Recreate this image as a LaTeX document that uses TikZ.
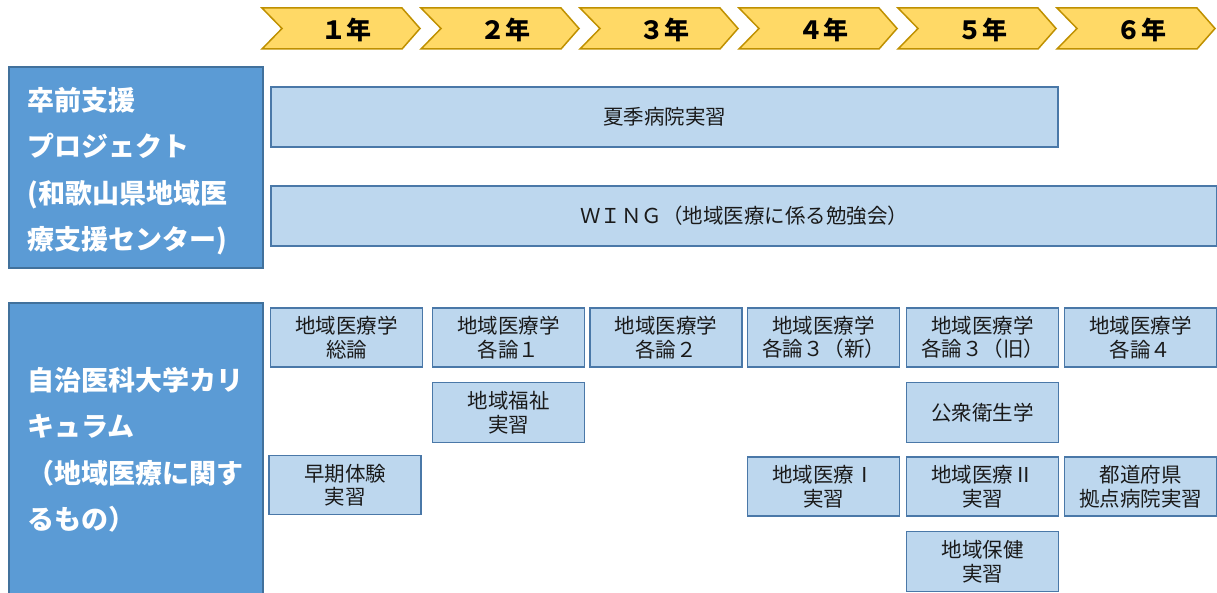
\documentclass[tikz,border=0pt]{standalone}
\usepackage{fontspec}
\setmainfont{Noto Sans CJK JP}
\definecolor{hdrfill}{HTML}{5B9BD5}
\definecolor{hdrline}{HTML}{41719C}
\definecolor{boxfill}{HTML}{BDD7EE}
\definecolor{boxline}{HTML}{4A78A8}
\definecolor{chevfill}{HTML}{FFD966}
\definecolor{chevline}{HTML}{BF9000}
\definecolor{txt}{HTML}{1A1A1A}
\begin{document}
\begin{tikzpicture}[x=1pt,y=-1pt,
 hdr/.style={draw=hdrline, fill=hdrfill, line width=1.5pt, inner sep=0pt},
 hdrtext/.style={text=white, font=\fontsize{27}{46.5}\selectfont\bfseries, align=left, anchor=west, inner sep=0pt},
 lbox/.style={draw=boxline, fill=boxfill, line width=1.5pt, align=center, text=txt, font=\fontsize{20.5}{23.5}\selectfont, inner sep=0pt, minimum height=59pt},
 sbox/.style={lbox, minimum width=152pt},
 chev/.style={draw=chevline, fill=chevfill, line width=1.5pt, line join=miter},
 chevtext/.style={font=\fontsize{25}{25}\selectfont\bfseries, inner sep=0pt}
]
\useasboundingbox (0,0) rectangle (1217,593);
% year chevrons
\foreach \i/\t in {0/１,1/２,2/３,3/４,4/５,5/６}{
  \pgfmathsetmacro\L{262+159*\i}
  \draw[chev] (\L,8) -- (\L+140,8) -- (\L+158,28.5) -- (\L+140,49) -- (\L,49) -- (\L+20,28.5) -- cycle;
  \node[chevtext] (year\i) at (\L+84,30) {\t 年};
}
% header boxes
\node[hdr, minimum width=254pt, minimum height=201pt] (pre) at (136,167.5) {};
\node[hdrtext] (pretext) at (27,171) {卒前支援\\プロジェクト\\(和歌山県地域医\\療支援センター)};
\node[hdr, minimum width=254pt, minimum height=292pt] (cur) at (136,449) {};
\node[hdrtext] (curtext) at (27,450) {自治医科大学カリ\\キュラム\\（地域医療に関す\\るもの）};
% long bars
\node[lbox, minimum width=787pt, minimum height=60pt] (summer) at (664.5,117) {夏季病院実習};
\node[lbox, minimum width=946pt, minimum height=60pt] (wing) at (744,216) {ＷＩＮＧ（地域医療に係る勉強会）};
% row 1
\node[sbox] (c1r1) at (346.5,337.5) {地域医療学\\総論};
\node[sbox] (c2r1) at (508.5,337.5) {地域医療学\\各論１};
\node[sbox] (c3r1) at (666,337.5) {地域医療学\\各論２};
\node[sbox] (c4r1) at (823.5,337.5) {地域医療学\\各論３（新）};
\node[sbox] (c5r1) at (982.5,337.5) {地域医療学\\各論３（旧）};
\node[sbox] (c6r1) at (1140.5,337.5) {地域医療学\\各論４};
% row 2
\node[sbox, minimum height=60pt] (c2r2) at (508.5,412.5) {地域福祉\\実習};
\node[sbox, minimum height=60pt] (c5r2) at (982.5,412.5) {公衆衛生学};
% row 3
\node[sbox] (c1r3) at (345,485) {早期体験\\実習};
\node[sbox] (c4r3) at (823.5,486.5) {地域医療Ⅰ\\実習};
\node[sbox] (c5r3) at (982.5,486.5) {地域医療Ⅱ\\実習};
\node[sbox] (c6r3) at (1140.5,486.5) {都道府県\\拠点病院実習};
% row 4
\node[sbox, minimum height=60pt] (c5r4) at (982.5,561.5) {地域保健\\実習};
\end{tikzpicture}
\end{document}
